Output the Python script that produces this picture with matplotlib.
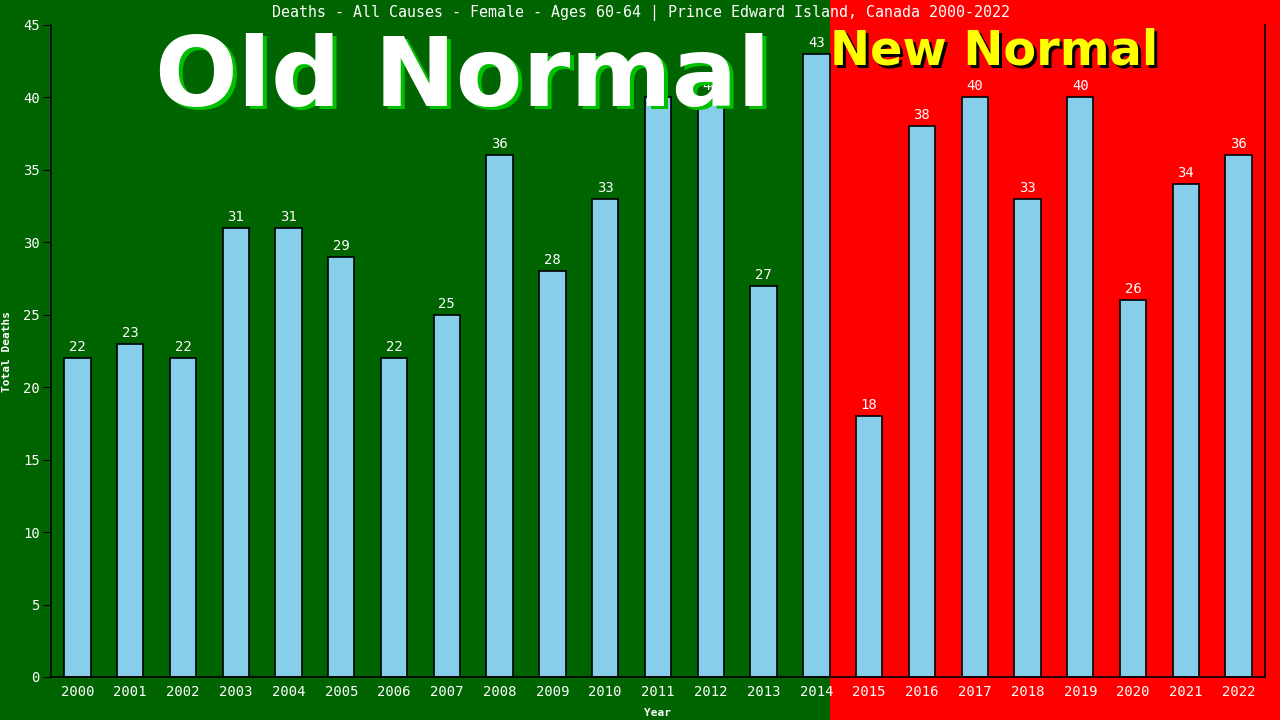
import matplotlib
matplotlib.use("Agg")
import matplotlib.pyplot as plt
from matplotlib.patches import Rectangle

years = [str(y) for y in range(2000, 2023)]
deaths = [22, 23, 22, 31, 31, 29, 22, 25, 36, 28, 33, 40, 40, 27, 43,
          18, 38, 40, 33, 40, 26, 34, 36]
title = "Deaths - All Causes - Female - Ages 60-64 | Prince Edward Island, Canada 2000-2022"

GREEN = "#006400"
RED = "#ff0000"
MONO = "DejaVu Sans Mono"

fig = plt.figure(figsize=(12.8, 7.2), dpi=100, facecolor=GREEN)
# red "new normal" panel behind everything from 2015 onward
fig.patches.append(Rectangle((830 / 1280, 0), 1 - 830 / 1280, 1, transform=fig.transFigure,
                             facecolor=RED, edgecolor="none", zorder=-10))

ax = fig.add_axes([51 / 1280, 43 / 720, (1265 - 51) / 1280, (677 - 25) / 720])
ax.patch.set_alpha(0)
x = list(range(len(years)))
ax.bar(x, deaths, width=0.5, color="#87ceeb", edgecolor="black", linewidth=1.2, zorder=2)
for xi, v in zip(x, deaths):
    ax.annotate(str(v), (xi, v), xytext=(0, 3), textcoords="offset points",
                ha="center", va="bottom", color="white", fontsize=10,
                family=MONO, zorder=3)

ax.set_xlim(-0.5, 22.5)
ax.set_ylim(0, 45)
ax.set_yticks(range(0, 46, 5))
ax.set_xticks(x)
ax.set_xticklabels(years)
for lab in ax.get_xticklabels() + ax.get_yticklabels():
    lab.set_family(MONO)
    lab.set_color("white")
    lab.set_fontsize(10)
ax.tick_params(axis="x", length=0, pad=6)
ax.tick_params(axis="y", length=6, color="black", pad=2)
ax.spines["top"].set_visible(False)
for s in ("left", "bottom", "right"):
    ax.spines[s].set_color("black")
    ax.spines[s].set_linewidth(1.2)

ax.set_ylabel("Total Deaths", color="white", fontsize=8, family=MONO,
              fontweight="bold", labelpad=8)
ax.set_xlabel("Year", color="white", fontsize=8, family=MONO,
              fontweight="bold", labelpad=6)

fig.text(0.501, 1 - 13 / 720, title, ha="center", va="center", color="white",
         fontsize=10.8, family=MONO)

# big overlay labels with drop shadows
fig.text(463 / 1280 + 0.003, 1 - 79 / 720 - 0.005, "Old Normal", ha="center", va="center",
         color="#00c000", fontsize=70, fontweight="bold", family="DejaVu Sans", zorder=5)
fig.text(463 / 1280, 1 - 79 / 720, "Old Normal", ha="center", va="center",
         color="white", fontsize=70, fontweight="bold", family="DejaVu Sans", zorder=6)
fig.text(994 / 1280 + 0.0025, 1 - 51 / 720 - 0.004, "New Normal", ha="center", va="center",
         color="black", fontsize=34.5, fontweight="bold", family="DejaVu Sans", zorder=5)
fig.text(994 / 1280, 1 - 51 / 720, "New Normal", ha="center", va="center",
         color="yellow", fontsize=34.5, fontweight="bold", family="DejaVu Sans", zorder=6)

fig.savefig("out.png", dpi=100, facecolor=fig.get_facecolor())
